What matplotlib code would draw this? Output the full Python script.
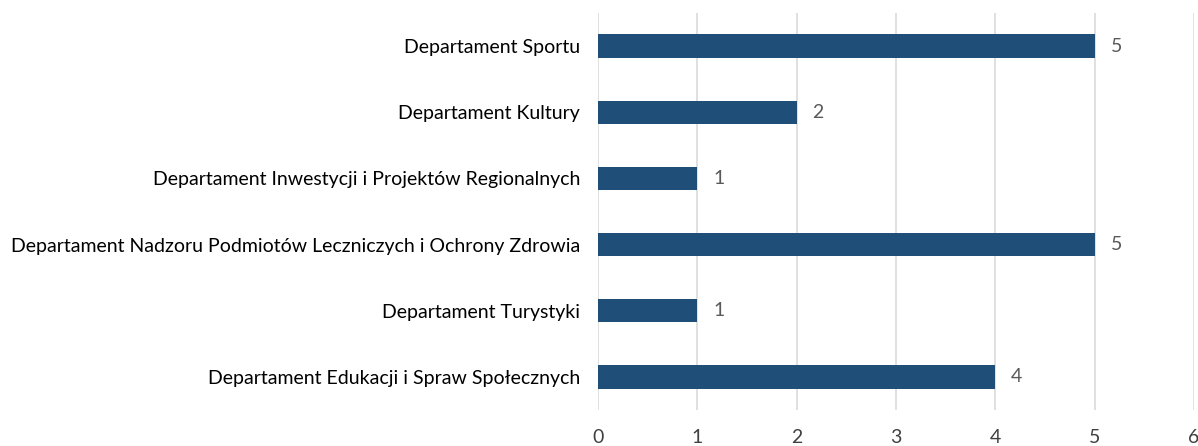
import matplotlib.pyplot as plt

# departments and number of items per department
departments = [
    "Departament Sportu",
    "Departament Kultury",
    "Departament Inwestycji i Projektów Regionalnych",
    "Departament Nadzoru Podmiotów Leczniczych i Ochrony Zdrowia",
    "Departament Turystyki",
    "Departament Edukacji i Spraw Społecznych",
]
counts = [5, 2, 1, 5, 1, 4]
xticks = [0, 1, 2, 3, 4, 5, 6]

plt.rcParams['font.family'] = ['Lato', 'DejaVu Sans']

fig = plt.figure(figsize=(11.98, 4.46), dpi=100)
ax = fig.add_axes([0.4992, 0.0807, 0.4975, 0.8902])

ypos = list(range(len(departments)))[::-1]
ax.barh(ypos, counts, height=0.35, color='#1F4E79', zorder=3)

for y, v in zip(ypos, counts):
    ax.text(v + 0.16, y, str(v), va='center', ha='left', fontsize=14, color='#595959')

ax.set_xlim(0, 6)
ax.set_ylim(-0.5, len(departments) - 0.5)
ax.set_xticks(xticks)
ax.set_yticks(ypos)
ax.set_yticklabels(departments)
ax.tick_params(axis='y', length=0, pad=13, labelsize=14, labelcolor='#000000')
ax.tick_params(axis='x', length=0, pad=14, labelsize=14, labelcolor='#404040')
for t in ax.get_xticklabels():
    t.set_clip_on(False)

ax.grid(axis='x', color='#DDDDDD', linewidth=1.3, zorder=0)
ax.grid(axis='y', visible=False)
for s in ax.spines.values():
    s.set_visible(False)

fig.savefig('out.png', dpi=100)
